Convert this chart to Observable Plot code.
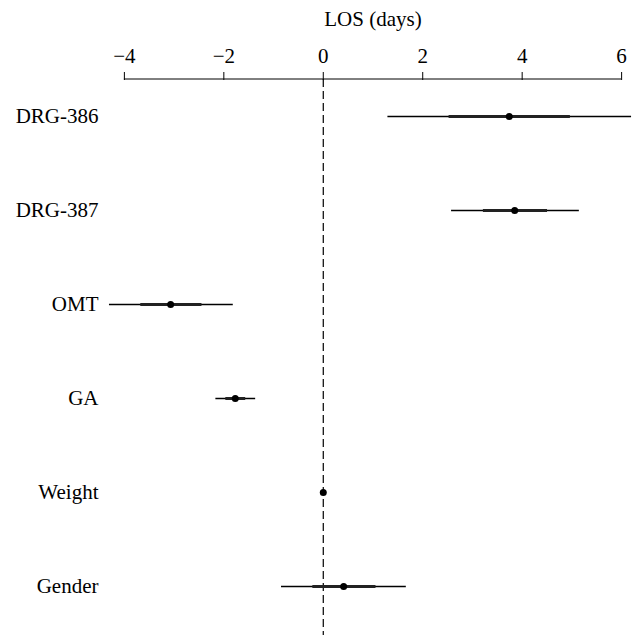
<!DOCTYPE html>
<html>
<head>
<meta charset="utf-8">
<script src="https://cdn.jsdelivr.net/npm/d3@7"></script>
<script src="https://cdn.jsdelivr.net/npm/@observablehq/plot@0.6"></script>
<style>
  html, body { margin: 0; padding: 0; background: #fff; }
  #chart { width: 644px; height: 635px; }
</style>
</head>
<body>
<div id="chart"></div>
<script>
// Predictors (top to bottom)
const predictors = ["DRG-386", "DRG-387", "OMT", "GA", "Weight", "Gender"];
// Point estimates (LOS days)
const estimates = [3.74, 3.85, -3.07, -1.77, 0.00, 0.41];
// Inner interval (thick segment)
const innerLow  = [2.52, 3.21, -3.68, -1.97, -0.005, -0.22];
const innerHigh = [4.96, 4.50, -2.45, -1.57,  0.005,  1.05];
// Outer interval (thin segment)
const outerLow  = [1.29, 2.57, -4.31, -2.17, -0.01, -0.85];
const outerHigh = [6.19, 5.14, -1.82, -1.37,  0.01,  1.66];
// Axis ticks
const xTicks = [-4, -2, 0, 2, 4, 6];
const xLabel = "LOS (days)";

const rows = predictors.map((p, i) => ({
  name: p, est: estimates[i],
  ilo: innerLow[i], ihi: innerHigh[i],
  olo: outerLow[i], ohi: outerHigh[i]
}));

const font = "'Liberation Serif', 'DejaVu Serif', serif";

const axisLine = (index, scales, values, dims) => {
  const [a, b] = d3.extent(xTicks);
  return d3.create("svg:line")
    .attr("x1", scales.x(a)).attr("x2", scales.x(b))
    .attr("y1", dims.marginTop).attr("y2", dims.marginTop)
    .attr("stroke", "#000").attr("stroke-width", 1)
    .node();
};

const chart = Plot.plot({
  width: 644,
  height: 635,
  marginTop: 79,
  marginLeft: 104,
  marginRight: 3,
  marginBottom: 0,
  style: { fontFamily: font, fontSize: "20px", color: "#000", background: "#fff" },
  x: { domain: [-4.4, 6.4], ticks: xTicks, label: xLabel },
  y: { type: "point", domain: predictors, padding: 0.39, insetBottom: 12, label: null },
  marks: [
    Plot.ruleX([0], { stroke: "#000", strokeWidth: 1.2, strokeDasharray: "8,4" }),
    Plot.link(rows, { x1: "olo", x2: "ohi", y1: "name", y2: "name", stroke: "#000", strokeWidth: 1.4 }),
    Plot.link(rows, { x1: "ilo", x2: "ihi", y1: "name", y2: "name", stroke: "#222", strokeWidth: 3 }),
    Plot.dot(rows, { x: "est", y: "name", r: 3.5, fill: "#000", stroke: null }),
    Plot.axisX({ anchor: "top", ticks: xTicks, tickSize: 8, tickPadding: 9, fontSize: 21,
                 label: xLabel, labelAnchor: "center", labelArrow: "none", labelOffset: 68 }),
    Plot.axisY({ anchor: "left", tickSize: 0, tickPadding: 6, fontSize: 21, label: null }),
    axisLine
  ]
});

document.getElementById("chart").appendChild(chart);
</script>
</body>
</html>
